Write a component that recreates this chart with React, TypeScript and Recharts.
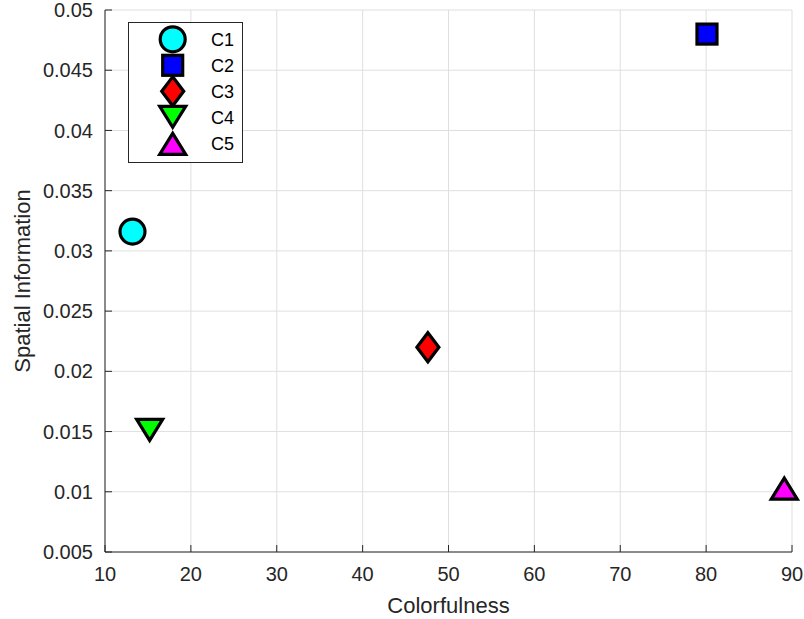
import React from 'react';
import {
  ScatterChart,
  Scatter,
  XAxis,
  YAxis,
  CartesianGrid,
  Legend
} from 'recharts';

const categories = ['C1', 'C2', 'C3', 'C4', 'C5'];
const colorfulness = [13.2, 80.1, 47.6, 15.2, 89.1];
const spatialInfo = [0.0316, 0.048, 0.022, 0.0151, 0.0103];
const markerKinds = ['circle', 'square', 'diamond', 'triangleDown', 'triangleUp'];
const markerFills = ['#00ffff', '#0000ff', '#ff0000', '#00ff00', '#ff00ff'];

const xTicks = [10, 20, 30, 40, 50, 60, 70, 80, 90];
const yTicks = [0.005, 0.01, 0.015, 0.02, 0.025, 0.03, 0.035, 0.04, 0.045, 0.05];
const yTickLabels = ['0.005', '0.01', '0.015', '0.02', '0.025', '0.03', '0.035', '0.04', '0.045', '0.05'];

const FONT = '"Liberation Sans", Arial, Helvetica, sans-serif';
const AXIS_COLOR = '#262626';
const TICK_LEN = 7;
const X_MARGIN = 15;
const Y_MARGIN = 12;

const Marker = ({ kind, cx, cy, fill }: { kind: string; cx: number; cy: number; fill: string }) => {
  const common = { fill, stroke: '#000', strokeWidth: 3.2, strokeLinejoin: 'miter' as const };
  if (kind === 'circle') return <circle cx={cx} cy={cy} r={12.5} {...common} />;
  if (kind === 'square') return <rect x={cx - 10} y={cy - 10} width={20} height={20} {...common} />;
  if (kind === 'diamond')
    return <polygon points={`${cx},${cy - 14.5} ${cx + 11},${cy} ${cx},${cy + 14.5} ${cx - 11},${cy}`} {...common} />;
  if (kind === 'triangleDown')
    return <polygon points={`${cx - 13},${cy - 11} ${cx + 13},${cy - 11} ${cx},${cy + 10}`} {...common} />;
  return <polygon points={`${cx - 13},${cy + 11} ${cx + 13},${cy + 11} ${cx},${cy - 10}`} {...common} />;
};

const BottomTick = (props: any) => {
  const { x, y, payload } = props;
  const axisY = y - X_MARGIN;
  return (
    <g>
      <line x1={x} y1={axisY} x2={x} y2={axisY - TICK_LEN} stroke={AXIS_COLOR} />
      <text x={x} y={y} dy="0.71em" textAnchor="middle" fill={AXIS_COLOR} fontSize={20} fontFamily={FONT}>
        {payload.value}
      </text>
    </g>
  );
};

const LeftTick = (props: any) => {
  const { x, y, payload, index } = props;
  const axisX = x + Y_MARGIN;
  return (
    <g>
      <line x1={axisX} y1={y} x2={axisX + TICK_LEN} y2={y} stroke={AXIS_COLOR} />
      <text x={x} y={y} dy="0.355em" textAnchor="end" fill={AXIS_COLOR} fontSize={20} fontFamily={FONT}>
        {yTickLabels[index] ?? payload.value}
      </text>
    </g>
  );
};

const TopTick = (props: any) => {
  const { x, y } = props;
  return <line x1={x} y1={y} x2={x} y2={y + TICK_LEN} stroke={AXIS_COLOR} />;
};

const RightTick = (props: any) => {
  const { x, y } = props;
  return <line x1={x} y1={y} x2={x - TICK_LEN} y2={y} stroke={AXIS_COLOR} />;
};

const LegendBox = () => (
  <svg width={116} height={142} style={{ display: 'block', overflow: 'visible' }}>
    <rect x={0.5} y={0.5} width={114} height={140} fill="#fff" stroke={AXIS_COLOR} strokeWidth={1} />
    {categories.map((c, i) => (
      <g key={c}>
        <Marker kind={markerKinds[i]} cx={44.7} cy={17.3 + 26 * i} fill={markerFills[i]} />
        <text x={83} y={17.3 + 26 * i + 6.5} fontSize={18} fontFamily={FONT} fill="#000">
          {c}
        </text>
      </g>
    ))}
  </svg>
);

export default function App() {
  return (
    <div style={{ position: 'absolute', left: 0, top: 0, background: '#fff' }}>
      <ScatterChart width={804} height={619} margin={{ top: 10, right: 12, bottom: 0, left: 0 }}>
        <CartesianGrid stroke="#dfdfdf" strokeWidth={1} />
        <XAxis
          type="number"
          dataKey="x"
          domain={[10, 90]}
          ticks={xTicks}
          height={67}
          tickSize={0}
          tickMargin={X_MARGIN}
          tick={<BottomTick />}
          axisLine={{ stroke: AXIS_COLOR }}
          label={{
            content: ({ viewBox }: any) => (
              <text
                x={viewBox.x + viewBox.width / 2}
                y={viewBox.y + 61}
                textAnchor="middle"
                fontSize={22}
                fontFamily={FONT}
                fill={AXIS_COLOR}
              >
                Colorfulness
              </text>
            )
          }}
        />
        <XAxis
          xAxisId="top"
          orientation="top"
          type="number"
          domain={[10, 90]}
          ticks={xTicks}
          height={0}
          tickSize={0}
          tickMargin={0}
          tick={<TopTick />}
          axisLine={{ stroke: AXIS_COLOR }}
          allowDataOverflow
        />
        <YAxis
          type="number"
          dataKey="y"
          domain={[0.005, 0.05]}
          ticks={yTicks}
          width={105}
          tickSize={0}
          tickMargin={Y_MARGIN}
          tick={<LeftTick />}
          axisLine={{ stroke: AXIS_COLOR }}
          label={{
            content: ({ viewBox }: any) => (
              <text
                x={30}
                y={viewBox.y + viewBox.height / 2}
                transform={`rotate(-90, 30, ${viewBox.y + viewBox.height / 2})`}
                textAnchor="middle"
                fontSize={22}
                fontFamily={FONT}
                fill={AXIS_COLOR}
              >
                Spatial Information
              </text>
            )
          }}
        />
        <YAxis
          yAxisId="right"
          orientation="right"
          type="number"
          domain={[0.005, 0.05]}
          ticks={yTicks}
          width={0}
          tickSize={0}
          tickMargin={0}
          tick={<RightTick />}
          axisLine={{ stroke: AXIS_COLOR }}
          allowDataOverflow
        />
        {categories.map((c, i) => (
          <Scatter
            key={c}
            name={c}
            data={[{ x: colorfulness[i], y: spatialInfo[i] }]}
            fill={markerFills[i]}
            isAnimationActive={false}
            shape={(p: any) => <Marker kind={markerKinds[i]} cx={p.cx} cy={p.cy} fill={markerFills[i]} />}
          />
        ))}
        <Legend
          layout="vertical"
          align="center"
          verticalAlign="middle"
          content={() => <LegendBox />}
          wrapperStyle={{ left: 128, top: 22, width: 116, height: 142 }}
        />
      </ScatterChart>
    </div>
  );
}
